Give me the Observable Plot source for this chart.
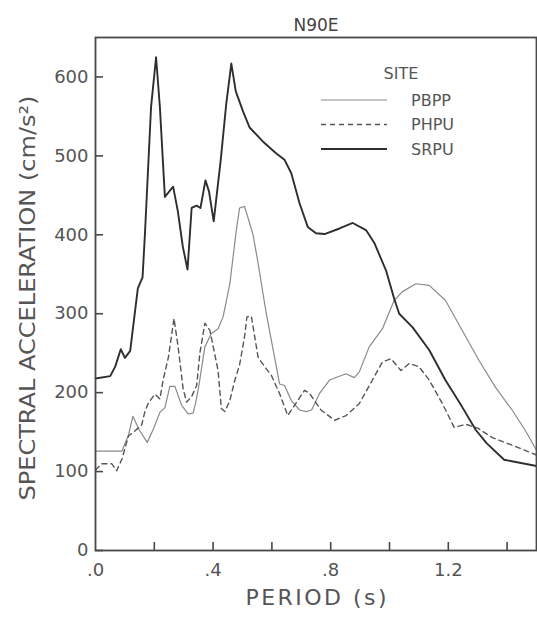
<!DOCTYPE html>
<html>
<head>
<meta charset="utf-8">
<script src="https://cdn.jsdelivr.net/npm/d3@7"></script>
<script src="https://cdn.jsdelivr.net/npm/@observablehq/plot@0.6"></script>
<style>
  html, body { margin: 0; padding: 0; background: #fff; }
  svg { display: block; }
</style>
</head>
<body>
<div id="chart"></div>
<script>
// Response spectra, component N90E, for three recording sites.
const sites = ["PBPP", "PHPU", "SRPU"];

const pbppPeriod = [0, 0.09, 0.112, 0.127, 0.15, 0.176, 0.197, 0.219, 0.236, 0.253, 0.27, 0.293, 0.315, 0.332, 0.34, 0.35,
  0.372, 0.394, 0.417, 0.434, 0.457, 0.479, 0.49, 0.507, 0.524, 0.536, 0.553, 0.581, 0.609, 0.626, 0.643, 0.666, 0.694,
  0.717, 0.735, 0.762, 0.796, 0.852, 0.88, 0.897, 0.931, 0.976, 1.016, 1.044, 1.09, 1.135, 1.19, 1.247, 1.304, 1.36,
  1.417, 1.462, 1.5];
const pbppSa = [126, 126, 146, 170, 152, 137, 154, 175, 181, 208, 208, 184, 173, 174, 186, 205,
  258, 275, 281, 296, 338, 406, 434, 436, 415, 400, 364, 300, 245, 211, 209, 190, 178,
  176, 178, 199, 216, 224, 219, 226, 258, 281, 317, 328, 338, 336, 317, 279, 241, 207,
  178, 152, 127];

const phpuPeriod = [0, 0.022, 0.055, 0.072, 0.09, 0.112, 0.129, 0.157, 0.168, 0.18, 0.202, 0.219, 0.23, 0.248, 0.267, 0.281,
  0.298, 0.31, 0.327, 0.344, 0.355, 0.372, 0.389, 0.417, 0.428, 0.44, 0.457, 0.474, 0.49, 0.507, 0.515, 0.53, 0.553,
  0.575, 0.598, 0.626, 0.654, 0.677, 0.711, 0.728, 0.767, 0.813, 0.852, 0.897, 0.942, 0.976, 1.005, 1.039, 1.067, 1.1,
  1.135, 1.18, 1.22, 1.26, 1.3, 1.35, 1.42, 1.5];
const phpuSa = [102, 110, 110, 101, 116, 145, 150, 159, 176, 187, 198, 192, 216, 245, 294, 258,
  205, 188, 195, 209, 250, 288, 279, 228, 180, 176, 190, 216, 235, 271, 296, 297, 245,
  233, 222, 199, 171, 184, 203, 199, 178, 165, 171, 186, 216, 239, 243, 228, 237, 233,
  216, 186, 156, 160, 155, 143, 133, 121];

const srpuPeriod = [0, 0.05, 0.067, 0.086, 0.1, 0.118, 0.144, 0.16, 0.168, 0.189, 0.206, 0.219, 0.236, 0.264, 0.28, 0.297,
  0.313, 0.327, 0.344, 0.357, 0.374, 0.386, 0.402, 0.426, 0.445, 0.462, 0.477, 0.502, 0.524, 0.57, 0.615, 0.643, 0.666,
  0.694, 0.722, 0.75, 0.779, 0.83, 0.875, 0.92, 0.948, 0.988, 1.016, 1.033, 1.078, 1.135, 1.19, 1.247, 1.293, 1.33,
  1.39, 1.5];
const srpuSa = [218, 221, 233, 255, 244, 253, 332, 346, 400, 562, 625, 562, 448, 461, 430, 385,
  356, 434, 437, 434, 469, 455, 417, 495, 567, 617, 582, 556, 536, 518, 503, 495, 478,
  440, 410, 402, 401, 408, 415, 406, 390, 355, 319, 300, 283, 254, 216, 182, 153, 136,
  115, 107];

const xTicks = [0.2, 0.4, 0.6, 0.8, 1.0, 1.2, 1.4];
const xTickLabels = [0, 0.4, 0.8, 1.2];
const xTickText = [".0", ".4", ".8", "1.2"];
const yTicks = [0, 100, 200, 300, 400, 500, 600];

const titleText = "N90E";
const xLabel = "PERIOD (s)";
const yLabel = "SPECTRAL ACCELERATION (cm/s²)";
const legendTitle = "SITE";

// line style for each site
const styles = {
  PBPP: {stroke: "#8a8a8a", strokeWidth: 1.2, strokeDasharray: null},
  PHPU: {stroke: "#555", strokeWidth: 1.4, strokeDasharray: "5,4"},
  SRPU: {stroke: "#2e2e2e", strokeWidth: 1.9, strokeDasharray: null}
};

const series = {
  PBPP: pbppPeriod.map((p, i) => ({site: "PBPP", period: p, sa: pbppSa[i]})),
  PHPU: phpuPeriod.map((p, i) => ({site: "PHPU", period: p, sa: phpuSa[i]})),
  SRPU: srpuPeriod.map((p, i) => ({site: "SRPU", period: p, sa: srpuSa[i]}))
};

const W = 537, H = 617;
const M = {top: 37, right: 1, bottom: 67, left: 95};
const plotW = W - M.left - M.right;
const plotH = H - M.top - M.bottom;
const font = "DejaVu Sans";
const textColor = "#555";
const axisColor = "#484848";

const chart = Plot.plot({
  width: W,
  height: H,
  marginTop: M.top,
  marginRight: M.right,
  marginBottom: M.bottom,
  marginLeft: M.left,
  style: {fontFamily: font, background: "#fff"},
  x: {domain: [0, 1.5]},
  y: {domain: [0, 650]},
  marks: [
    // curves
    ...sites.map(s => Plot.line(series[s], {
      x: "period", y: "sa",
      stroke: styles[s].stroke,
      strokeWidth: styles[s].strokeWidth,
      strokeDasharray: styles[s].strokeDasharray,
      strokeLinejoin: "round"
    })),
    // box around the plotting area
    Plot.frame({stroke: axisColor, strokeWidth: 1.8}),
    // inward-pointing ticks
    Plot.tickX(xTicks, {x: d => d, stroke: axisColor, strokeWidth: 1.6, insetTop: plotH - 8}),
    Plot.tickY(yTicks, {y: d => d, stroke: axisColor, strokeWidth: 1.6, insetRight: plotW - 8}),
    // tick labels
    Plot.axisX(xTickLabels, {
      tickSize: 0, tickPadding: 13, fontSize: 18, color: textColor, label: null,
      tickFormat: d => xTickText[xTickLabels.indexOf(d)]
    }),
    Plot.axisY(yTicks, {tickSize: 0, tickPadding: 7, fontSize: 18, color: textColor, label: null}),
    // title and axis titles
    Plot.text([titleText], {frameAnchor: "top", dy: -19, fontSize: 17, fill: "#444"}),
    Plot.text([xLabel], {frameAnchor: "bottom", dy: 54, fontSize: 22, fill: textColor, textAnchor: "middle",
      className: "x-title"}),
    Plot.text([yLabel], {frameAnchor: "left", dx: -67, dy: 4, rotate: -90, fontSize: 21, fill: textColor,
      textAnchor: "middle", className: "y-title"})
  ]
});

const svg = d3.select(chart);

// stretch the axis titles to their set lengths
svg.selectAll(".x-title text").attr("textLength", 141).attr("lengthAdjust", "spacing");
svg.selectAll(".y-title text").attr("textLength", 405).attr("lengthAdjust", "spacingAndGlyphs");

// legend inside the plotting area
const legend = svg.append("g")
  .attr("font-family", font)
  .attr("font-size", 16)
  .attr("fill", textColor);
legend.append("text")
  .attr("x", 401).attr("y", 73)
  .attr("text-anchor", "middle")
  .attr("dominant-baseline", "central")
  .text(legendTitle);
sites.forEach((s, i) => {
  const y = 100 + i * 24.5;
  legend.append("line")
    .attr("x1", 321).attr("x2", 387).attr("y1", y).attr("y2", y)
    .attr("stroke", styles[s].stroke)
    .attr("stroke-width", styles[s].strokeWidth)
    .attr("stroke-dasharray", styles[s].strokeDasharray);
  legend.append("text")
    .attr("x", 411).attr("y", y)
    .attr("text-anchor", "start")
    .attr("dominant-baseline", "central")
    .text(s);
});

document.getElementById("chart").appendChild(chart);
</script>
</body>
</html>
